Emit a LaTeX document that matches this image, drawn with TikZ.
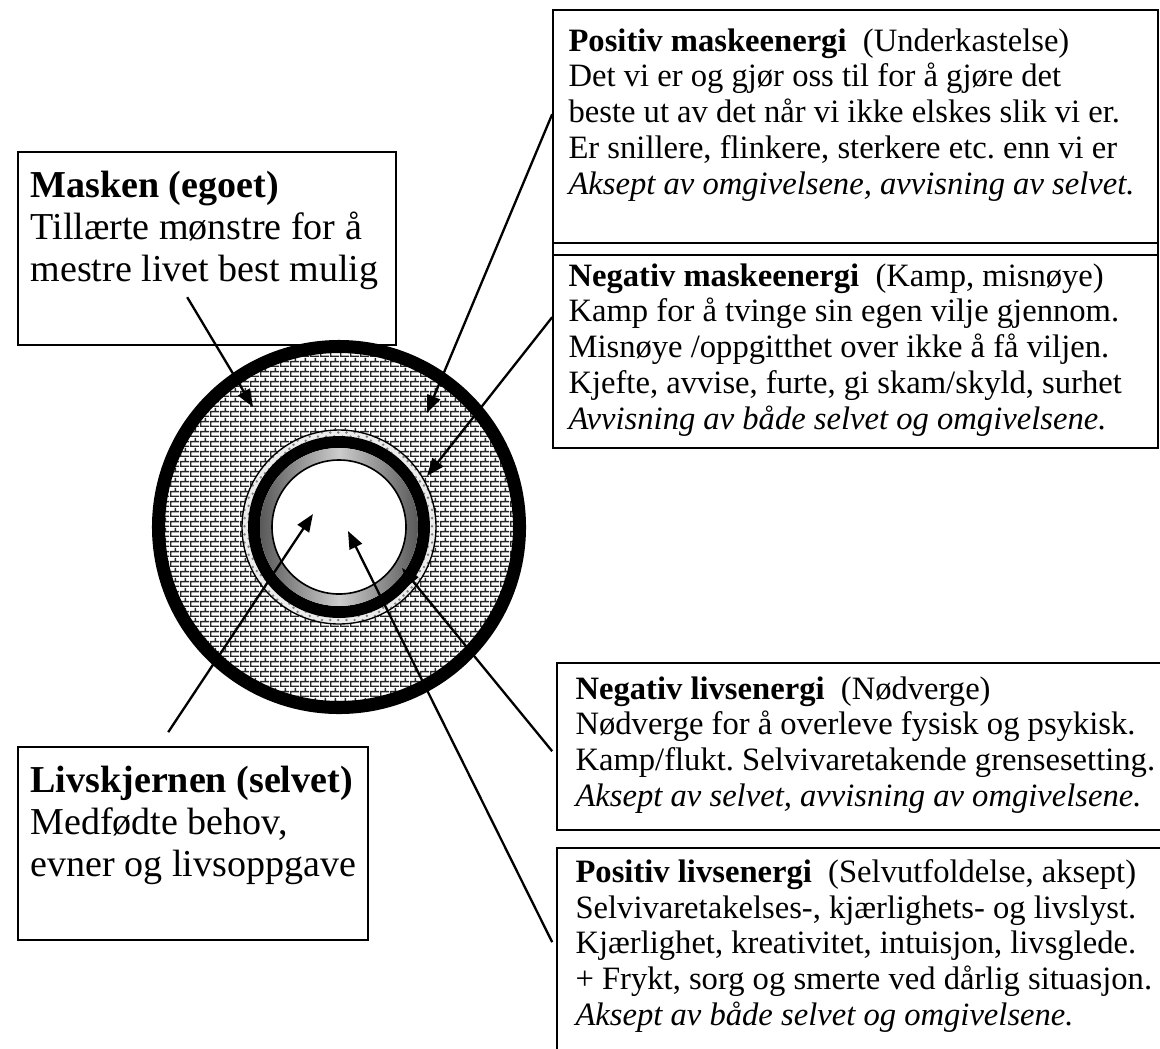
\documentclass[tikz,border=0pt]{standalone}
\usepackage{fontspec}
\setmainfont{Liberation Serif}
\frenchspacing
\usetikzlibrary{arrows.meta,patterns,calc,fit}

% murstein (brick) pattern for the mask ring
\pgfdeclarepatternformonly{murstein}{\pgfpointorigin}{\pgfpoint{3.7pt}{3.7pt}}{\pgfpoint{3.7pt}{3.7pt}}{%
  \pgfsetlinewidth{0.6pt}
  \pgfpathmoveto{\pgfpoint{0pt}{0.3pt}}\pgfpathlineto{\pgfpoint{3.7pt}{0.3pt}}
  \pgfpathmoveto{\pgfpoint{0pt}{2.15pt}}\pgfpathlineto{\pgfpoint{3.7pt}{2.15pt}}
  \pgfpathmoveto{\pgfpoint{0.3pt}{0.3pt}}\pgfpathlineto{\pgfpoint{0.3pt}{2.15pt}}
  \pgfpathmoveto{\pgfpoint{2.15pt}{2.15pt}}\pgfpathlineto{\pgfpoint{2.15pt}{3.7pt}}
  \pgfusepath{stroke}}

\tikzset{
  boks/.style={draw, line width=0.6pt, inner sep=0pt},
  tekst/.style={anchor=north west, align=left, inner sep=0pt, font=\fontsize{12pt}{13.15pt}\selectfont},
  stortekst/.style={anchor=north west, align=left, inner sep=0pt, font=\fontsize{14pt}{15.3pt}\selectfont},
  pil/.style={line width=0.85pt, -{Triangle[length=6.5pt,width=5pt]}}
}

\begin{document}
\begin{tikzpicture}[x=0.368pt, y=-0.368pt]
    \useasboundingbox (0,0) rectangle (1160,1048);

    % Draw the rings (mask outside, life core inside)
    \coordinate (C) at (339,527);
    \fill[even odd rule, pattern=murstein, pattern color=black!85] (C) circle[radius=180] (C) circle[radius=97];
    \draw[line width=4.8pt] (C) circle[radius=180.5];
    \fill[even odd rule, gray!15] (C) circle[radius=97] (C) circle[radius=91];
    \fill[even odd rule, pattern=crosshatch dots, pattern color=gray] (C) circle[radius=97] (C) circle[radius=91];
    \draw[line width=0.5pt] (C) circle[radius=97];
    \draw[line width=4.4pt] (C) circle[radius=85];
    \shade[even odd rule, left color=black!65, right color=black!65, middle color=black!20] (C) circle[radius=79] (C) circle[radius=67];
    \draw[line width=0.6pt, fill=white] (C) circle[radius=67];

    % Arrow tips in the rings
    \coordinate (tipMask) at (253,407);
    \coordinate (tipPosMaske) at (427,413);
    \coordinate (tipNegMaske) at (427,476);
    \coordinate (tipNegLiv) at (402,568);
    \coordinate (tipPosLiv) at (348,531);
    \coordinate (tipKjerne) at (313,514);

    % Left boxes
    \node[boks, fit={(18,152) (396,345)}] (mask) {};
    \node[stortekst] (maskTxt) at (30,171) {\textbf{Masken (egoet)}\\Tillærte mønstre for å\\mestre livet best mulig};
    \node[boks, fit={(18,747) (368,940)}] (kjerne) {};
    \node[stortekst] (kjerneTxt) at (30,766) {\textbf{Livskjernen (selvet)}\\Medfødte behov,\\evner og livsoppgave};

    % Right boxes
    \node[boks, fit={(553,10) (1158,255)}] (posMaske) {};
    \node[boks, fit={(553,243) (1158,448)}] (negMaske) {};
    \node[tekst] (posMaskeTxt) at (568,28) {\textbf{Positiv maskeenergi}~ (Underkastelse)\\
        Det vi er og gjør oss til for å gjøre det\\
        beste ut av det når vi ikke elskes slik vi er.\\
        Er snillere, flinkere, sterkere etc. enn vi er\\
        \textit{Aksept av omgivelsene, avvisning av selvet.}};
    \node[tekst] (negMaskeTxt) at (568,263) {\textbf{Negativ maskeenergi}~ (Kamp, misnøye)\\
        Kamp for å tvinge sin egen vilje gjennom.\\
        Misnøye /oppgitthet over ikke å få viljen.\\
        Kjefte, avvise, furte, gi skam/skyld, surhet\\
        \textit{Avvisning av både selvet og omgivelsene.}};
    \node[boks, fit={(557,663) (1165,830)}] (negLiv) {};
    \node[tekst] (negLivTxt) at (575,676) {\textbf{Negativ livsenergi}~ (Nødverge)\\
        Nødverge for å overleve fysisk og psykisk.\\
        Kamp/flukt. Selvivaretakende grensesetting.\\
        \textit{Aksept av selvet, avvisning av omgivelsene.}};
    \node[boks, fit={(557,848) (1165,1065)}] (posLiv) {};
    \node[tekst] (posLivTxt) at (575,859) {\textbf{Positiv livsenergi}~ (Selvutfoldelse, aksept)\\
        Selvivaretakelses-, kjærlighets- og livslyst.\\
        Kjærlighet, kreativitet, intuisjon, livsglede.\\
        + Frykt, sorg og smerte ved dårlig situasjon.\\
        \textit{Aksept av både selvet og omgivelsene.}};

    % Connectors
    \draw[pil] ($(mask.north west)+(170,146)$) -- (tipMask);
    \draw[pil] ($(posMaske.north west)+(0,105)$) -- (tipPosMaske);
    \draw[pil] ($(negMaske.north west)+(0,75)$) -- (tipNegMaske);
    \draw[pil] ($(negLiv.north west)+(-4,89)$) -- (tipNegLiv);
    \draw[pil] ($(posLiv.north west)+(-4,95)$) -- (tipPosLiv);
    \draw[pil] ($(kjerne.north west)+(151,-14)$) -- (tipKjerne);
\end{tikzpicture}
\end{document}
